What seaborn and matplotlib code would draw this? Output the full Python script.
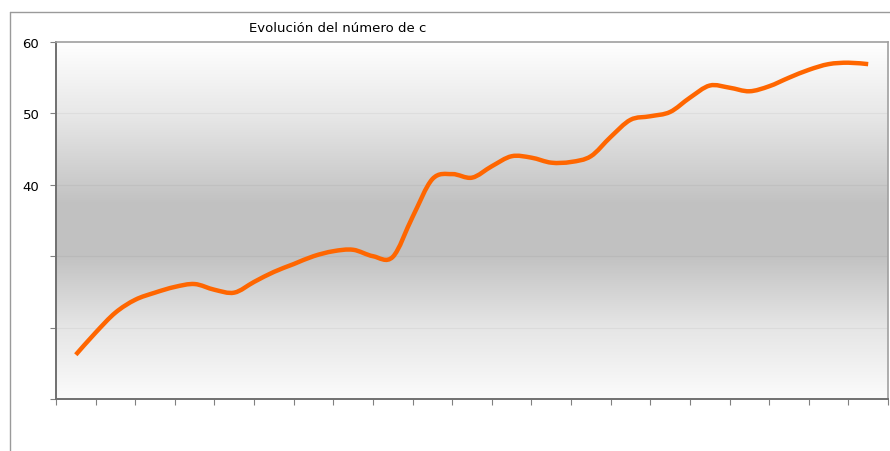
import numpy as np
import pandas as pd
import matplotlib
matplotlib.use("Agg")
import matplotlib.pyplot as plt
from matplotlib.lines import Line2D
from matplotlib.path import Path
from matplotlib.patches import PathPatch
import seaborn as sns

# Series values, read every half period across 21 periods
valores = [16.2, 19.3, 22.1, 23.9, 24.9, 25.7, 26.1, 25.3, 24.9, 26.4,
           27.8, 28.9, 30.0, 30.7, 30.9, 30.0, 29.9, 35.5, 40.8, 41.5,
           41.0, 42.6, 44.0, 43.8, 43.1, 43.2, 44.0, 46.7, 49.1, 49.6,
           50.2, 52.2, 53.9, 53.6, 53.1, 53.8, 55.0, 56.1, 56.9, 57.1,
           56.9]
n_periodos = 21
y_ticks = [10, 20, 30, 40, 50, 60]
y_labels = ["", "", "", "40", "50", "60"]
titulo = "Evolución del número de c"

posiciones = [i / 2 for i in range(len(valores))]
df = pd.DataFrame({"periodo": posiciones, "valor": valores})

sns.set_style("white")
plt.rcParams["font.family"] = ["DejaVu Sans"]

fig = plt.figure(figsize=(8.9, 4.52), dpi=100)
ax = fig.add_axes([56 / 890, 52 / 452, 832 / 890, 357 / 452])

# Vertical grey gradient behind the plot area
t = np.linspace(0, 1, 400)
stops_t = [0.0, 0.2, 0.45, 0.6, 0.8, 1.0]
stops_v = [1.0, 0.91, 0.76, 0.76, 0.90, 0.985]
shade = np.interp(t, stops_t, stops_v)
grad = np.repeat(shade[:, None], 2, axis=1)
ax.imshow(np.dstack([grad, grad, grad]), aspect="auto",
          extent=[0, 1, 0, 1], transform=ax.transAxes, zorder=0,
          interpolation="bilinear")

for yv in y_ticks[1:-1]:
    ax.axhline(yv, color="#000000", alpha=0.045, lw=0.9, zorder=1)

sns.lineplot(data=df, x="periodo", y="valor", ax=ax, color="#ff6600",
             lw=3.2, zorder=3, legend=False)

# Render the series as a smoothed curve (Catmull-Rom as cubic Beziers)
line = ax.get_lines()[-1]
pts = line.get_xydata()
verts = [tuple(pts[0])]
codes = [Path.MOVETO]
for i in range(len(pts) - 1):
    p0 = pts[i - 1] if i > 0 else pts[i]
    p1 = pts[i]
    p2 = pts[i + 1]
    p3 = pts[i + 2] if i + 2 < len(pts) else pts[i + 1]
    c1 = p1 + (p2 - p0) / 6.0
    c2 = p2 - (p3 - p1) / 6.0
    verts += [tuple(c1), tuple(c2), tuple(p2)]
    codes += [Path.CURVE4] * 3
ax.add_patch(PathPatch(Path(verts, codes), facecolor="none",
                       edgecolor=line.get_color(), lw=line.get_linewidth(),
                       capstyle="butt", joinstyle="round", zorder=3))
line.set_visible(False)

ax.set_xlim(-0.5, n_periodos - 0.5)
ax.set_ylim(y_ticks[0], y_ticks[-1])
ax.set_xticks(np.arange(-0.5, n_periodos, 1.0))
ax.set_xticklabels([])
ax.set_yticks(y_ticks)
ax.set_yticklabels(y_labels)
ax.set_xlabel("")
ax.set_ylabel("")
ax.tick_params(axis="both", direction="out", length=4, width=0.8,
               color="#808080", labelsize=9.5, labelcolor="#000000",
               bottom=True, left=True)
ax.tick_params(axis="y", pad=8)
ax.tick_params(axis="x", pad=2)

for side in ["left", "bottom"]:
    ax.spines[side].set_color("#707070")
    ax.spines[side].set_linewidth(1.4)
for side in ["top", "right"]:
    ax.spines[side].set_color("#a0a0a0")
    ax.spines[side].set_linewidth(1.2)
    ax.spines[side].set_visible(True)

# Outer chart frame
fig.add_artist(Line2D([10 / 890, 1.0], [1 - 13 / 452, 1 - 13 / 452],
                      transform=fig.transFigure, color="#9a9a9a", lw=1.0))
fig.add_artist(Line2D([10 / 890, 10 / 890], [0.0, 1 - 13 / 452],
                      transform=fig.transFigure, color="#9a9a9a", lw=1.0))

fig.text(338 / 890, 1 - 28 / 452, titulo, ha="center", va="center",
         fontsize=9.5, color="#000000")

fig.savefig("out.png", dpi=100)
